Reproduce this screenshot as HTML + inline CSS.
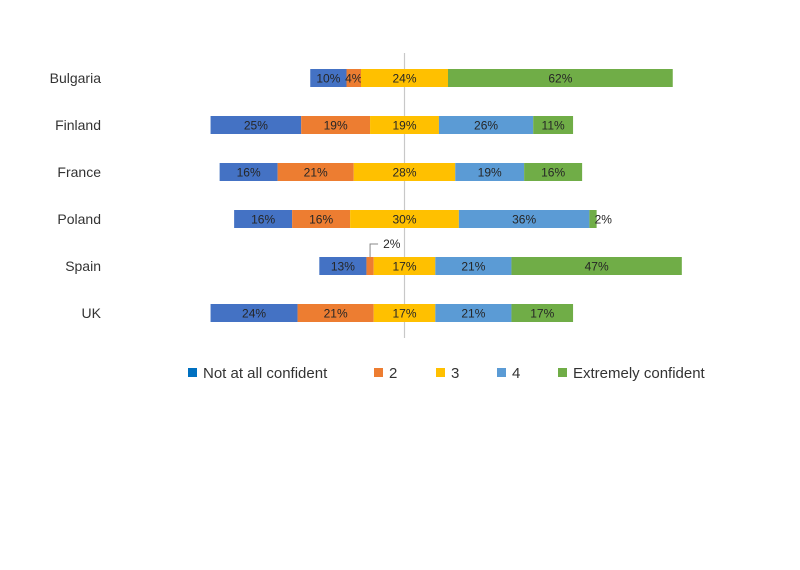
<!DOCTYPE html>
<html><head><meta charset="utf-8">
<style>
html,body{margin:0;padding:0;background:#fff;}
svg text{font-family:"Liberation Sans",sans-serif;}
</style></head>
<body>
<svg id="chart" width="800" height="565" viewBox="0 0 800 565" xmlns="http://www.w3.org/2000/svg">
<rect width="800" height="565" fill="#fff"/>
<g id="bars"></g>
<g id="legend"></g>
</svg>
<script>
const categories = ["Bulgaria","Finland","France","Poland","Spain","UK"];
const seriesNames = ["Not at all confident","2","3","4","Extremely confident"];
const s1 = [10,25,16,16,13,24];
const s2 = [4,19,21,16,2,21];
const s3 = [24,19,28,30,17,17];
const s4 = [0,26,19,36,21,21];
const s5 = [62,11,16,2,47,17];
const colors = ["#4472C4","#ED7D31","#FFC000","#5B9BD5","#70AD47"];
const legendColors = ["#0070C0","#ED7D31","#FFC000","#5B9BD5","#70AD47"];

const NS="http://www.w3.org/2000/svg";
const cx=404.5, k=3.625, row0=78, rowStep=47, bh=18;
const xs = v => cx + v*k;
const ys = i => row0 + i*rowStep;
const bars=document.getElementById('bars');
const svg=document.getElementById('chart');

const axis=document.createElementNS(NS,'line');
axis.setAttribute('x1',cx);axis.setAttribute('x2',cx);axis.setAttribute('y1',53);axis.setAttribute('y2',338);
axis.setAttribute('stroke','#c8c8c8');axis.setAttribute('stroke-width','1.2');


svg.insertBefore(axis,bars);

const series=[s1,s2,s3,s4,s5];
categories.forEach((c,i)=>{
  const y=ys(i);
  const lab=document.createElementNS(NS,'text');
  lab.setAttribute('x',101);lab.setAttribute('y',y+5);lab.setAttribute('text-anchor','end');
  lab.setAttribute('font-size','14');lab.setAttribute('fill','#333');
  lab.textContent=c;
  
  
  bars.appendChild(lab);
  let start=-(series[0][i]+series[1][i]+series[2][i]/2);
  series.forEach((s,j)=>{
    const v=s[i];
    if(v<=0){return;}
    const r=document.createElementNS(NS,'rect');
    r.setAttribute('x',xs(start));r.setAttribute('y',y-bh/2);
    r.setAttribute('width',v*k);r.setAttribute('height',bh);r.setAttribute('fill',colors[j]);
    
    
    bars.appendChild(r);
    const t=document.createElementNS(NS,'text');
    t.setAttribute('font-size','12');t.setAttribute('fill','#262626');
    if(v*k<12 && j===series.length-1){
      t.setAttribute('x',xs(start+v)-2);t.setAttribute('y',y+4.5);
    } else if(v*k<12){
      const lx=xs(start+v/2);
      const ld=document.createElementNS(NS,'path');
      ld.setAttribute('d','M'+lx+' '+(y-bh/2)+' V'+(y-bh/2-13)+' H'+(lx+8));
      ld.setAttribute('stroke','#888');ld.setAttribute('fill','none');
      
      
      bars.appendChild(ld);
      t.setAttribute('x',lx+13);t.setAttribute('y',y-bh/2-9);
    } else {
      t.setAttribute('x',xs(start+v/2));t.setAttribute('y',y+4.5);t.setAttribute('text-anchor','middle');
    }
    t.textContent=v+'%';
    
    
    bars.appendChild(t);
    start+=v;
  });
});

const legX=[188,374,436,497,558];
const leg=document.getElementById('legend');
seriesNames.forEach((n,j)=>{
  const r=document.createElementNS(NS,'rect');
  r.setAttribute('x',legX[j]);r.setAttribute('y',368);r.setAttribute('width',9);r.setAttribute('height',9);
  r.setAttribute('fill',legendColors[j]);
  
  
  leg.appendChild(r);
  const t=document.createElementNS(NS,'text');
  t.setAttribute('x',legX[j]+15);t.setAttribute('y',378);t.setAttribute('font-size','15');t.setAttribute('fill','#333');
  t.textContent=n;
  
  
  leg.appendChild(t);
});
</script>
</body></html>
